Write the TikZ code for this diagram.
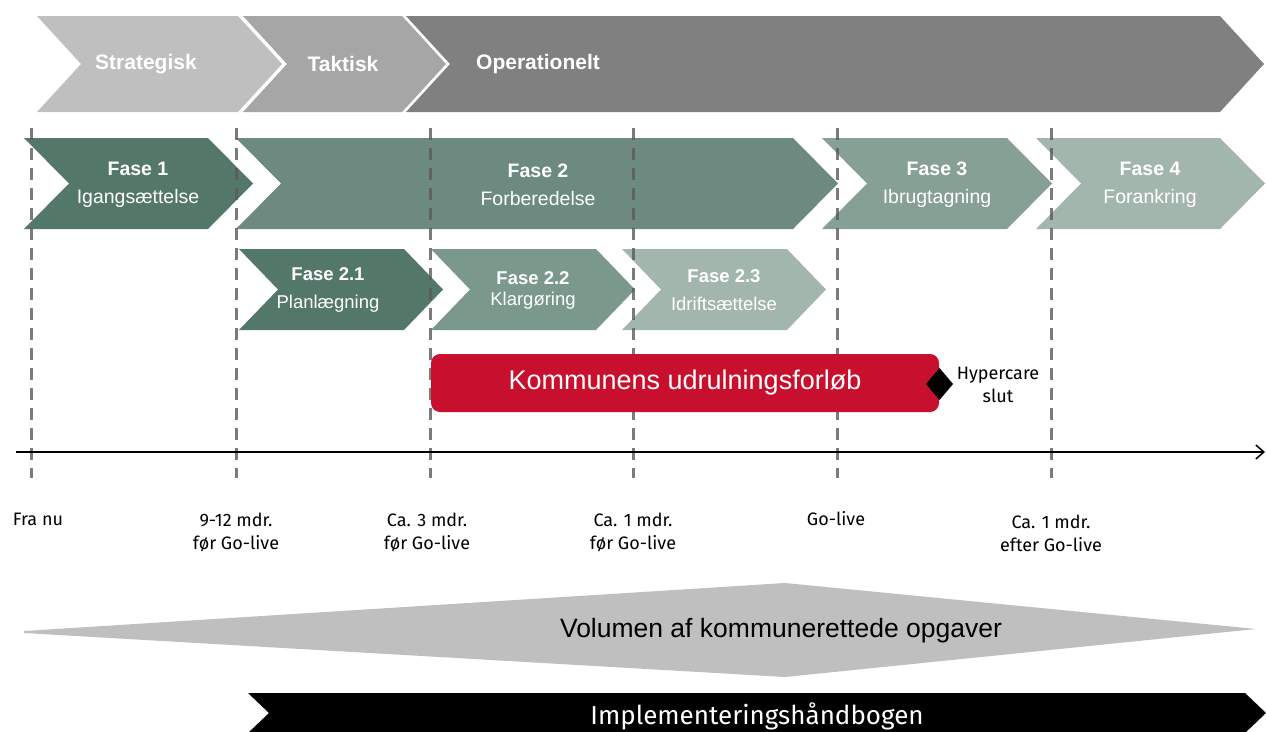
\documentclass[tikz,border=0pt]{standalone}
\usepackage{fontspec}
\setmainfont{Liberation Sans}
\newfontfamily\lblfont{Fira Sans}
\usetikzlibrary{arrows.meta,calc}

\definecolor{bandA}{HTML}{BFBFBF}
\definecolor{bandB}{HTML}{A6A6A6}
\definecolor{bandC}{HTML}{808080}
\definecolor{phOne}{HTML}{537869}
\definecolor{phTwo}{HTML}{6C8A7F}
\definecolor{phThree}{HTML}{87A096}
\definecolor{phFour}{HTML}{A3B6AE}
\definecolor{phTwoTwo}{HTML}{7B988D}
\definecolor{rollout}{HTML}{C8102E}
\definecolor{volgray}{HTML}{BFBFBF}
\definecolor{dashgray}{HTML}{5A5A5A}

% chevron: #1 fill, #2 left x, #3 right x (top corners), #4 top y, #5 bottom y, #6 depth
\newcommand\chevshape[6]{%
  \pgfmathsetmacro\chvmid{(#4+#5)/2}%
  \pgfmathsetmacro\chvtip{#3+#6}%
  \pgfmathsetmacro\chvnotch{#2+#6}%
  \fill[#1] (#2,#4) -- (#3,#4) -- (\chvtip,\chvmid) -- (#3,#5) -- (#2,#5)
    -- (\chvnotch,\chvmid) -- cycle;}

\tikzset{
  bandtxt/.style={text=white, font=\fontsize{21}{24}\selectfont\bfseries},
  phasetxt/.style={text=white, align=center, inner sep=0pt,
    font=\fontsize{19.5}{28}\selectfont},
  subtxt/.style={text=white, align=center, inner sep=0pt,
    font=\fontsize{18.5}{28}\selectfont},
  lbl/.style={align=center, inner sep=0pt, font=\lblfont\fontsize{18}{23}\selectfont},
  dashline/.style={draw=dashgray, draw opacity=0.8, line width=3pt,
    dash pattern=on 12pt off 8pt},
  axisline/.style={line width=1.5pt, -{Straight Barb[length=8pt,width=14pt,line width=1.5pt]}},
  bigtxt/.style={inner sep=0pt, font=\fontsize{26.5}{30}\selectfont},
}

\begin{document}
\begin{tikzpicture}[x=1pt,y=-1pt]
\useasboundingbox (0,0) rectangle (1266,731);

% strategic / tactical / operational band
\chevshape{bandA}{37}{238}{16}{112}{44}
\chevshape{bandB}{243}{402}{16}{112}{44}
\chevshape{bandC}{406}{1220}{16}{112}{44}
\node[bandtxt] (strat) at (146,64) {Strategisk};
\node[bandtxt] (takt) at (343,64) {Taktisk};
\node[bandtxt] (oper) at (538,64) {Operationelt};

% main phases
\chevshape{phOne}{24}{208}{138}{229}{45}
\chevshape{phTwo}{236}{793}{138}{229}{45}
\chevshape{phThree}{822}{1007}{138}{229}{45}
\chevshape{phFour}{1036}{1220}{138}{229}{45}
\node[phasetxt] (f1) at (138,185) {\textbf{Fase 1}\\Igangsættelse};
\node[phasetxt] (f2) at (538,185) {\textbf{Fase 2}\\Forberedelse};
\node[phasetxt] (f3) at (937,185) {\textbf{Fase 3}\\Ibrugtagning};
\node[phasetxt] (f4) at (1150,185) {\textbf{Fase 4}\\Forankring};

% sub-phases of phase 2
\chevshape{phOne}{239}{404}{249}{330}{39}
\chevshape{phTwoTwo}{431}{596}{249}{330}{39}
\chevshape{phFour}{622}{787}{249}{330}{39}
\node[subtxt] (f21) at (328,290) {\textbf{Fase 2.1}\\Planlægning};
\node[subtxt, font=\fontsize{18.5}{21}\selectfont] (f22) at (533,290) {\textbf{Fase 2.2}\\Klargøring};
\node[subtxt] (f23) at (724,290) {\textbf{Fase 2.3}\\Idriftsættelse};

% milestone guide lines
\foreach \gx/\gn in {31/g0, 236/g1, 430/g2, 633/g3, 837/g4, 1051/g5} {
  \coordinate (\gn top) at (\gx,128);
  \coordinate (\gn bot) at (\gx,478);
  \draw[dashline] (\gn top) -- (\gn bot);
}

% municipal rollout bar and hypercare milestone
\fill[rollout, rounded corners=9pt] (431,354) rectangle (939,412);
\node[text=white, inner sep=0pt, font=\fontsize{27}{30}\selectfont] (roll) at (685,383)
  {Kommunens udrulningsforløb};
\fill (939.5,368) -- (953,384) -- (939.5,400) -- (926,384) -- cycle;
\node[lbl] (hyper) at (998,385) {Hypercare\\slut};

% time axis
\coordinate (axisL) at (16,452);
\coordinate (axisR) at (1265,452);
\draw[axisline] (axisL) -- (axisR);

% milestone labels
\node[lbl] (t0) at (38,519) {Fra nu};
\node[lbl] (t1) at (236,532) {9-12 mdr.\\før Go-live};
\node[lbl] (t2) at (427,532) {Ca. 3 mdr.\\før Go-live};
\node[lbl] (t3) at (633,532) {Ca. 1 mdr.\\før Go-live};
\node[lbl] (t4) at (836,519) {Go-live};
\node[lbl] (t5) at (1051,533) {Ca. 1 mdr.\\efter Go-live};

% volume of municipal tasks
\fill[volgray] (24,631) -- (24,633) -- (785,677) -- (1256,629) -- (785,583) -- cycle;
\node[bigtxt] (vol) at (781,631) {Volumen af kommunerettede opgaver};

% implementation handbook
\fill[black] (248,693) -- (1245,693) -- (1266,713) -- (1245,733) -- (248,733)
  -- (269,713) -- cycle;
\node[bigtxt, text=white, font=\lblfont\fontsize{26}{30}\selectfont] (hb) at (757,716)
  {Implementeringshåndbogen};
\end{tikzpicture}
\end{document}
